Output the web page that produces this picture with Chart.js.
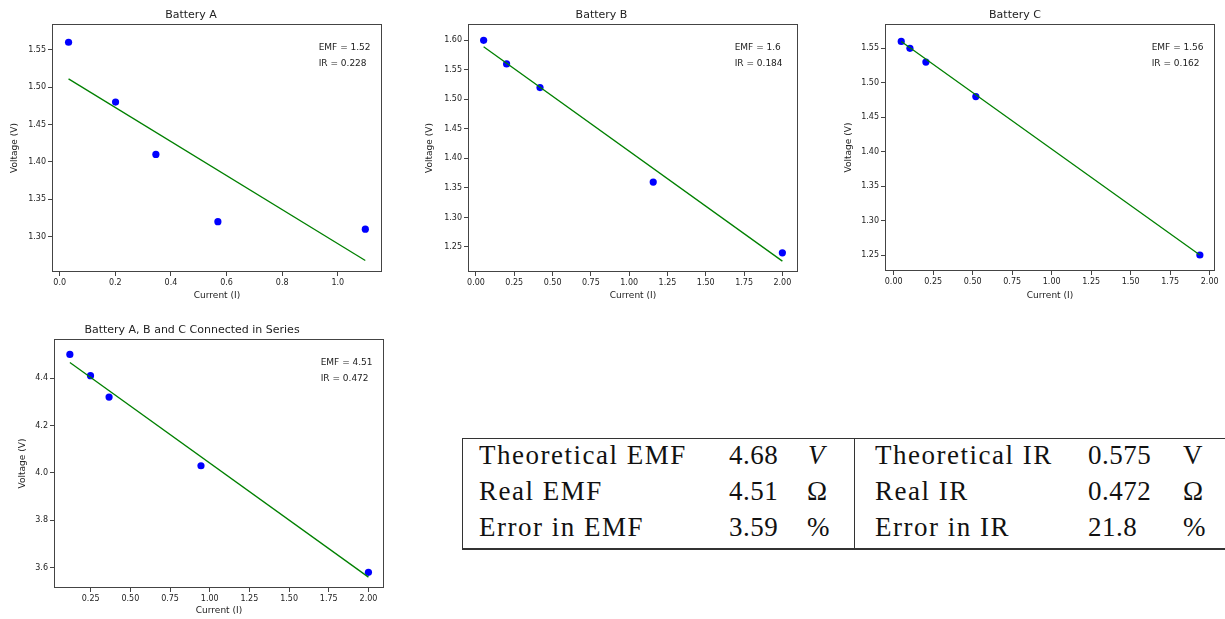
<!DOCTYPE html>
<html>
<head>
<meta charset="utf-8">
<script src="https://cdn.jsdelivr.net/npm/chart.js@4.4.0/dist/chart.umd.min.js"></script>
<style>
body { margin: 0; width: 1225px; height: 619px; overflow: hidden; background: #fff; position: relative; }
.plot { position: absolute; }
#tbl { position: absolute; left: 462px; top: 438px; width: 820px; height: 109px; border: 1px solid #333; border-bottom-width: 2px; }
#divider { position: absolute; left: 391px; top: 0; bottom: 0; border-left: 1px solid #333; }
.cell { position: absolute; font-family: 'Liberation Serif', serif; font-size: 27px; line-height: 27px; color: #111; white-space: nowrap; letter-spacing: 1.5px; }
.num { letter-spacing: 0.5px; }
</style>
</head>
<body>
<div class="plot" style="left:0;top:0"><canvas id="chartA" width="405" height="310"></canvas></div>
<div class="plot" style="left:405px;top:0"><canvas id="chartB" width="410" height="310"></canvas></div>
<div class="plot" style="left:815px;top:0"><canvas id="chartC" width="410" height="310"></canvas></div>
<div class="plot" style="left:0;top:315px"><canvas id="chartD" width="405" height="304"></canvas></div>
<div id="tbl"><div id="divider"></div></div>
<div id="cells"></div>

<script>
// Battery A
var aCurrent = [0.032, 0.201, 0.346, 0.569, 1.099]
var aVoltage = [1.56, 1.48, 1.41, 1.32, 1.31]
var aFitCurrent = [0.032, 1.099]
var aFitVoltage = [1.511, 1.268]
var aXTicks = [0.0, 0.2, 0.4, 0.6, 0.8, 1.0]
var aYTicks = [1.30, 1.35, 1.40, 1.45, 1.50, 1.55]

// Battery B
var bCurrent = [0.05, 0.2, 0.418, 1.157, 2.0]
var bVoltage = [1.60, 1.56, 1.52, 1.36, 1.24]
var bFitCurrent = [0.05, 2.0]
var bFitVoltage = [1.589, 1.226]
var bXTicks = [0, 0.25, 0.5, 0.75, 1.0, 1.25, 1.5, 1.75, 2.0]
var bYTicks = [1.25, 1.30, 1.35, 1.40, 1.45, 1.50, 1.55, 1.60]

// Battery C
var cCurrent = [0.048, 0.103, 0.204, 0.52, 1.938]
var cVoltage = [1.56, 1.55, 1.53, 1.48, 1.25]
var cFitCurrent = [0.048, 1.938]
var cFitVoltage = [1.56, 1.25]
var cXTicks = [0, 0.25, 0.5, 0.75, 1.0, 1.25, 1.5, 1.75, 2.0]
var cYTicks = [1.25, 1.30, 1.35, 1.40, 1.45, 1.50, 1.55]

// A, B and C in series
var dCurrent = [0.119, 0.249, 0.366, 0.945, 2.0]
var dVoltage = [4.50, 4.41, 4.32, 4.03, 3.58]
var dFitCurrent = [0.119, 2.0]
var dFitVoltage = [4.466, 3.560]
var dXTicks = [0.25, 0.5, 0.75, 1.0, 1.25, 1.5, 1.75, 2.0]
var dYTicks = [3.6, 3.8, 4.0, 4.2, 4.4]

// fitted values shown in each plot
var fitEmf = ['1.52', '1.6', '1.56', '4.51']
var fitIr = ['0.228', '0.184', '0.162', '0.472']

// summary table
var leftLabels = ['Theoretical EMF', 'Real EMF', 'Error in EMF']
var leftValues = ['4.68', '4.51', '3.59']
var leftUnits = ['V', 'Ω', '%']
var rightLabels = ['Theoretical IR', 'Real IR', 'Error in IR']
var rightValues = ['0.575', '0.472', '21.8']
var rightUnits = ['V', 'Ω', '%']

var FONT = "'DejaVu Sans', sans-serif"
var TEXT = '#222'

//draws the box round the axes and the EMF / IR note
var framePlugin = {
    id: 'frame',
    afterDraw(chart, args, opts) {
        let a = chart.chartArea
        let ctx = chart.ctx
        ctx.save()
        ctx.strokeStyle = '#444'
        ctx.lineWidth = 1
        ctx.strokeRect(Math.round(a.left) + 0.5, Math.round(a.top) + 0.5, Math.round(a.right - a.left) - 1, Math.round(a.bottom - a.top) - 1)
        ctx.font = '9px ' + FONT
        ctx.fillStyle = TEXT
        ctx.textBaseline = 'middle'
        let x = a.left + 0.808 * (a.right - a.left)
        ctx.fillText('EMF = ' + opts.emf, x, a.top + 23.5)
        ctx.fillText('IR = ' + opts.ir, x, a.top + 39.5)
        ctx.restore()
    }
}

function makeChart(id, c) {
    let points = c.current.map((v, i) => ({ x: v, y: c.voltage[i] }))
    let fit = c.fitCurrent.map((v, i) => ({ x: v, y: c.fitVoltage[i] }))
    let canvas = document.getElementById(id)
    let W = canvas.width, H = canvas.height
    let p = c.plot // left, right, top, bottom inside the canvas
    return new Chart(canvas, {
        type: 'scatter',
        data: {
            datasets: [
                { data: fit, showLine: true, borderColor: '#008000', borderWidth: 1.3, pointRadius: 0, fill: false },
                { data: points, pointRadius: 3.6, backgroundColor: '#0000ff', borderWidth: 0 }
            ]
        },
        options: {
            responsive: false,
            animation: false,
            devicePixelRatio: 1,
            layout: { padding: { left: 0, top: 0, right: W - p.right, bottom: H - p.bottom - 30 } },
            plugins: {
                legend: { display: false },
                tooltip: { enabled: false },
                title: {
                    display: true, text: c.title, color: TEXT,
                    font: { size: 11, weight: 'normal', family: FONT },
                    padding: { top: 8.5, bottom: p.top - 8.5 - 13.2 }
                },
                frame: { emf: c.emf, ir: c.ir }
            },
            scales: {
                x: {
                    type: 'linear', min: c.xMin, max: c.xMax,
                    afterFit: (s) => { s.height = 30 },
                    afterBuildTicks: (s) => { s.ticks = c.xTicks.map(v => ({ value: v })) },
                    ticks: { callback: (v) => v.toFixed(c.xDec), font: { size: 8, family: FONT }, color: TEXT, padding: 2, maxRotation: 0, autoSkip: false },
                    grid: { display: true, drawOnChartArea: false, drawTicks: true, tickLength: 4, color: '#444' },
                    border: { display: false },
                    title: { display: true, text: 'Current (I)', color: TEXT, font: { size: 9, family: FONT }, padding: { top: 0, bottom: p.bottom + 30 - 5.4 - c.xTitleY } }
                },
                y: {
                    type: 'linear', min: c.yMin, max: c.yMax,
                    afterFit: (s) => { s.width = p.left },
                    afterBuildTicks: (s) => { s.ticks = c.yTicks.map(v => ({ value: v })) },
                    ticks: { callback: (v) => v.toFixed(c.yDec), font: { size: 8, family: FONT }, color: TEXT, padding: 2, autoSkip: false },
                    grid: { display: true, drawOnChartArea: false, drawTicks: true, tickLength: 4, color: '#444' },
                    border: { display: false },
                    title: { display: true, text: 'Voltage (V)', color: TEXT, font: { size: 9, family: FONT }, padding: { top: c.yTitleX - 5.4, bottom: 0 } }
                }
            }
        },
        plugins: [framePlugin]
    })
}

makeChart('chartA', {
    title: 'Battery A', current: aCurrent, voltage: aVoltage, fitCurrent: aFitCurrent, fitVoltage: aFitVoltage,
    xTicks: aXTicks, yTicks: aYTicks, xDec: 1, yDec: 2, emf: fitEmf[0], ir: fitIr[0],
    xMin: -0.0275, xMax: 1.159, yMin: 1.2527, yMax: 1.5844,
    plot: { left: 52, right: 382, top: 24, bottom: 272 }, yTitleX: 15, xTitleY: 295.7
})
makeChart('chartB', {
    title: 'Battery B', current: bCurrent, voltage: bVoltage, fitCurrent: bFitCurrent, fitVoltage: bFitVoltage,
    xTicks: bXTicks, yTicks: bYTicks, xDec: 2, yDec: 2, emf: fitEmf[1], ir: fitIr[1],
    xMin: -0.052, xMax: 2.102, yMin: 1.2076, yMax: 1.6277,
    plot: { left: 63, right: 393, top: 24, bottom: 272 }, yTitleX: 25, xTitleY: 295.7
})
makeChart('chartC', {
    title: 'Battery C', current: cCurrent, voltage: cVoltage, fitCurrent: cFitCurrent, fitVoltage: cFitVoltage,
    xTicks: cXTicks, yTicks: cYTicks, xDec: 2, yDec: 2, emf: fitEmf[2], ir: fitIr[2],
    xMin: -0.0548, xMax: 2.0337, yMin: 1.2268, yMax: 1.5853,
    plot: { left: 70, right: 400, top: 24, bottom: 271 }, yTitleX: 33.3, xTitleY: 295.7
})
makeChart('chartD', {
    title: 'Battery A, B and C Connected in Series', current: dCurrent, voltage: dVoltage, fitCurrent: dFitCurrent, fitVoltage: dFitVoltage,
    xTicks: dXTicks, yTicks: dYTicks, xDec: 2, yDec: 1, emf: fitEmf[3], ir: fitIr[3],
    xMin: 0.019, xMax: 2.098, yMin: 3.514, yMax: 4.565,
    plot: { left: 54, right: 384, top: 24, bottom: 273 }, yTitleX: 22.7, xTitleY: 296
})

//table cells, positioned on their baselines
var rowBaselines = [464.3, 500.3, 536.3]
var cellsHtml = ''
function addCell(text, x, row, cls, style) {
    cellsHtml += `<div class="cell ${cls}" style="left:${x}px;top:${rowBaselines[row] - 22.6}px;${style || ''}">${text}</div>`
}
for (let i = 0; i < 3; i++) {
    addCell(leftLabels[i], 479, i, '')
    addCell(leftValues[i], 729, i, 'num')
    addCell(leftUnits[i], i == 0 ? 808 : 807, i, '', i == 0 ? 'font-style:italic' : '')
    addCell(rightLabels[i], 875, i, '')
    addCell(rightValues[i], 1088, i, 'num')
    addCell(rightUnits[i], 1183, i, '')
}
document.getElementById('cells').innerHTML = cellsHtml
</script>
</body>
</html>
